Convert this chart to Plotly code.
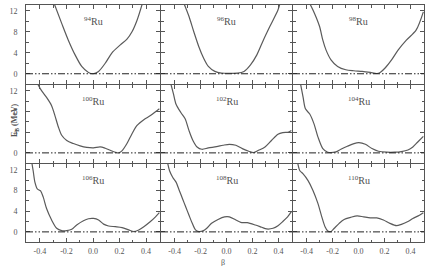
import plotly.graph_objects as go

# ---- data ----
nuclei = ["94", "96", "98", "100", "102", "104", "106", "108", "110"]

beta_94 = [-0.29, -0.236, -0.186, -0.135, -0.085, -0.034, 0.0, 0.042, 0.092, 0.143, 0.206, 0.256, 0.294, 0.332, 0.37]
E_94 = [13.2, 9.6, 6.4, 3.6, 1.4, 0.25, 0.0, 0.45, 2.0, 4.0, 5.5, 6.6, 8.0, 10.2, 13.2]

beta_96 = [-0.325, -0.289, -0.252, -0.214, -0.177, -0.14, -0.09, -0.04, 0.01, 0.085, 0.135, 0.185, 0.234, 0.284, 0.334, 0.396, 0.41]
E_96 = [13.2, 10.9, 8.0, 5.2, 3.0, 1.4, 0.45, 0.12, 0.1, 0.12, 0.45, 1.7, 3.6, 6.4, 9.0, 12.1, 13.2]

beta_98 = [-0.372, -0.339, -0.30, -0.275, -0.25, -0.212, -0.161, -0.098, -0.036, 0.028, 0.091, 0.142, 0.167, 0.205, 0.255, 0.305, 0.369, 0.444, 0.5]
E_98 = [13.2, 11.5, 9.0, 6.4, 4.5, 2.65, 1.4, 0.76, 0.57, 0.45, 0.25, 0.05, 0.25, 1.1, 2.65, 4.5, 6.4, 8.3, 11.8]

beta_100 = [-0.415, -0.388, -0.35, -0.312, -0.287, -0.261, -0.236, -0.198, -0.148, -0.097, -0.047, 0.004, 0.054, 0.092, 0.13, 0.168, 0.193, 0.218, 0.256, 0.294, 0.332, 0.383, 0.433, 0.484, 0.5]
E_100 = [13.2, 12.0, 10.7, 9.1, 7.2, 5.0, 3.4, 2.4, 1.8, 1.34, 1.05, 0.96, 1.15, 0.9, 0.5, 0.13, 0.0, 0.38, 1.8, 3.7, 5.3, 6.4, 7.2, 8.2, 8.5]

beta_102 = [-0.428, -0.409, -0.389, -0.352, -0.319, -0.289, -0.259, -0.227, -0.19, -0.14, -0.077, -0.027, 0.022, 0.072, 0.122, 0.172, 0.209, 0.247, 0.297, 0.347, 0.397, 0.434, 0.479, 0.5]
E_102 = [13.2, 11.4, 9.4, 7.8, 6.6, 4.3, 2.4, 1.15, 0.7, 0.96, 1.2, 1.47, 1.66, 1.47, 0.83, 0.32, 0.06, 0.5, 1.15, 2.4, 3.6, 3.9, 4.0, 4.3]

beta_104 = [-0.446, -0.427, -0.409, -0.376, -0.343, -0.313, -0.275, -0.237, -0.174, -0.136, -0.086, -0.035, 0.003, 0.053, 0.104, 0.154, 0.217, 0.28, 0.33, 0.381, 0.419, 0.457, 0.5]
E_104 = [13.2, 10.7, 8.5, 7.5, 5.6, 3.1, 0.83, 0.13, 0.19, 0.7, 1.28, 1.8, 1.98, 1.66, 0.83, 0.32, 0.13, 0.13, 0.26, 0.57, 1.15, 2.1, 3.2]

beta_106 = [-0.46, -0.451, -0.438, -0.42, -0.395, -0.375, -0.35, -0.312, -0.274, -0.236, -0.198, -0.16, -0.123, -0.072, -0.034, 0.004, 0.042, 0.08, 0.117, 0.168, 0.219, 0.269, 0.307, 0.345, 0.383, 0.433, 0.471, 0.5]
E_106 = [13.2, 11.8, 9.6, 8.3, 7.9, 6.7, 4.5, 2.3, 0.7, 0.25, 0.25, 0.5, 1.33, 2.16, 2.54, 2.6, 2.3, 1.5, 1.14, 1.0, 0.83, 0.38, 0.06, 0.38, 1.0, 2.0, 2.9, 3.7]

beta_108 = [-0.453, -0.439, -0.414, -0.389, -0.364, -0.339, -0.314, -0.289, -0.264, -0.239, -0.214, -0.177, -0.152, -0.115, -0.065, -0.015, 0.022, 0.072, 0.11, 0.16, 0.222, 0.272, 0.309, 0.359, 0.397, 0.434, 0.471, 0.5]
E_108 = [13.2, 11.8, 10.5, 9.6, 8.0, 6.4, 4.8, 3.2, 1.65, 0.38, 0.06, 0.25, 0.7, 1.65, 2.4, 2.9, 2.9, 2.3, 1.84, 1.78, 1.33, 0.89, 0.57, 0.7, 1.2, 2.0, 2.9, 3.9]

beta_110 = [-0.468, -0.452, -0.427, -0.389, -0.351, -0.313, -0.283, -0.258, -0.237, -0.212, -0.187, -0.149, -0.111, -0.061, -0.01, 0.04, 0.091, 0.141, 0.192, 0.242, 0.293, 0.331, 0.381, 0.419, 0.47, 0.5]
E_110 = [13.2, 11.8, 11.2, 9.9, 8.0, 5.5, 2.9, 1.0, 0.19, 0.06, 0.7, 1.65, 2.4, 2.8, 3.1, 2.9, 2.7, 2.7, 2.3, 1.65, 1.2, 1.46, 2.0, 2.6, 3.2, 3.7]

betas = [beta_94, beta_96, beta_98, beta_100, beta_102, beta_104, beta_106, beta_108, beta_110]
energies = [E_94, E_96, E_98, E_100, E_102, E_104, E_106, E_108, E_110]

x_tickvals = [-0.4, -0.2, 0.0, 0.2, 0.4]
x_ticktext = ["-0.4", "-0.2", "0.0", "0.2", "0.4"]
y_tickvals = [0, 4, 8, 12]
y_ticktext = ["0", "4", "8", "12"]

# ---- layout ----
W, H = 430, 266
col_px = [(26, 160), (161, 292), (293, 424)]
row_px = [(5, 84), (85, 163), (164, 242)]

fig = go.Figure()
FONT = "Liberation Serif"
LINE_C = "#555555"
TXT_C = "#555555"

layout = dict(
    width=W, height=H,
    margin=dict(l=0, r=0, t=0, b=0),
    paper_bgcolor="white", plot_bgcolor="white",
    showlegend=False,
    font=dict(family=FONT, size=8, color=TXT_C),
    shapes=[], annotations=[],
)

for i in range(9):
    r, c = divmod(i, 3)
    n = i + 1
    xa = "x" if n == 1 else f"x{n}"
    ya = "y" if n == 1 else f"y{n}"
    fig.add_trace(go.Scatter(
        x=betas[i], y=energies[i], mode="lines",
        line=dict(color="#5a5a5a", width=1.2, shape="spline", smoothing=0.8),
        xaxis=xa, yaxis=ya, hoverinfo="skip",
    ))
    x0, x1 = col_px[c]
    y0, y1 = row_px[r]
    xkey = "xaxis" if n == 1 else f"xaxis{n}"
    ykey = "yaxis" if n == 1 else f"yaxis{n}"
    layout[xkey] = dict(
        domain=[x0 / W, x1 / W], anchor=ya, range=[-0.505, 0.505],
        showgrid=False, zeroline=False,
        showline=True, linecolor=LINE_C, linewidth=1, mirror="ticks",
        ticks="inside", ticklen=4, tickcolor=LINE_C, tickwidth=1,
        tickmode="array", tickvals=x_tickvals, ticktext=x_ticktext,
        showticklabels=(r == 2), ticklabelstandoff=1,
        tickfont=dict(family=FONT, size=8, color=TXT_C),
        minor=dict(tickmode="linear", tick0=0, dtick=0.1, ticks="inside", ticklen=2.5,
                   tickcolor=LINE_C, tickwidth=1),
    )
    layout[ykey] = dict(
        domain=[1 - y1 / H, 1 - y0 / H], anchor=xa, range=[-1.95, 13.1],
        showgrid=False, zeroline=False,
        showline=True, linecolor=LINE_C, linewidth=1, mirror="ticks",
        ticks="inside", ticklen=4, tickcolor=LINE_C, tickwidth=1,
        tickmode="array", tickvals=y_tickvals, ticktext=y_ticktext,
        showticklabels=(c == 0), ticklabelstandoff=6,
        tickfont=dict(family=FONT, size=8, color=TXT_C),
        minor=dict(tickmode="linear", tick0=0, dtick=2, ticks="inside", ticklen=2.5,
                   tickcolor=LINE_C, tickwidth=1),
    )
    layout["shapes"].append(dict(
        type="line", xref=f"{xa} domain", yref=ya, x0=0, x1=1, y0=0, y1=0,
        line=dict(color="#222222", width=1, dash="7px,2px,1.5px,2px,1.5px,2px"),
    ))
    layout["annotations"].append(dict(
        xref=xa, yref=ya, x=0.0, y=10.0, showarrow=False,
        text=f"<sup>{nuclei[i]}</sup>Ru",
        font=dict(family=FONT, size=10, color="#505050"),
    ))

layout["annotations"].append(dict(
    xref="paper", yref="paper", x=8 / W, y=1 - 120 / H, showarrow=False,
    text="<b>E<sub>B</sub> (MeV)</b>", textangle=-90,
    font=dict(family=FONT, size=8, color=TXT_C),
))
layout["annotations"].append(dict(
    xref="paper", yref="paper", x=223 / W, y=0, yanchor="bottom", yshift=-3,
    showarrow=False,
    text="β", font=dict(family=FONT, size=8, color=TXT_C),
))

fig.update_layout(**layout)
fig.write_html("out.html")
